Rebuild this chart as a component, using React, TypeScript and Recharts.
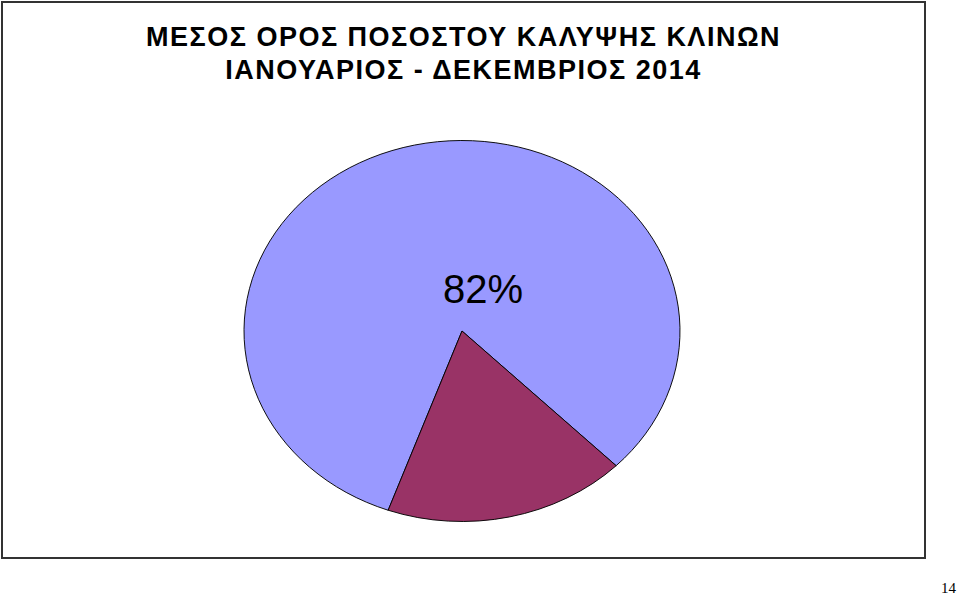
import { PieChart, Pie, Cell } from "recharts";

const TITLE_LINES = [
  "ΜΕΣΟΣ ΟΡΟΣ ΠΟΣΟΣΤΟΥ ΚΑΛΥΨΗΣ ΚΛΙΝΩΝ",
  "ΙΑΝΟΥΑΡΙΟΣ - ΔΕΚΕΜΒΡΙΟΣ 2014",
];
const SLICE_NAMES = ["Κατειλημμένες", "Κενές"];
const SLICE_VALUES = [82, 18];
const SLICE_COLORS = ["#9999FF", "#993366"];
const PAGE_NUMBER = "14";

const data = SLICE_NAMES.map((name, i) => ({ name, value: SLICE_VALUES[i] }));

// the original pie is an ellipse, so the square chart gets squashed vertically
const RX = 218;
const RY = 190.5;
const SQUASH = RY / RX;
const SIZE = 440;

function renderLabel(props: any) {
  const { cx, cy, index, percent } = props;
  if (index !== 0) return null;
  const x = cx + 21;
  const y = cy - 42 / SQUASH;
  return (
    <text
      transform={`translate(${x},${y}) scale(1,${1 / SQUASH})`}
      textAnchor="middle"
      dominantBaseline="central"
      fill="#000"
      fontSize={40}
      fontFamily="'Liberation Sans', Arial, sans-serif"
    >
      {`${Math.round(percent * 100)}%`}
    </text>
  );
}

export default function App() {
  return (
    <div
      style={{
        position: "absolute",
        left: 0,
        top: 0,
        width: 960,
        height: 598,
        background: "#fff",
        fontFamily: "'Liberation Sans', Arial, sans-serif",
      }}
    >
      <div
        style={{
          position: "absolute",
          left: 1,
          top: 1,
          width: 921,
          height: 554,
          border: "2px solid #333",
        }}
      />
      <div
        style={{
          position: "absolute",
          left: 1,
          top: 21,
          width: 925,
          textAlign: "center",
          fontWeight: "bold",
          fontSize: 27,
          letterSpacing: 1.5,
          lineHeight: "33px",
          color: "#000",
        }}
      >
        {TITLE_LINES.map((t) => (
          <div key={t}>{t}</div>
        ))}
      </div>
      <div
        style={{
          position: "absolute",
          left: 462 - SIZE / 2,
          top: 330.5 - SIZE / 2,
          width: SIZE,
          height: SIZE,
          transform: `scale(1, ${SQUASH})`,
          transformOrigin: "50% 50%",
        }}
      >
        <PieChart width={SIZE} height={SIZE} margin={{ top: 0, right: 0, bottom: 0, left: 0 }}>
          <Pie
            data={data}
            dataKey="value"
            nameKey="name"
            cx="50%"
            cy="50%"
            outerRadius={RX}
            startAngle={-45}
            endAngle={315}
            stroke="#000"
            strokeWidth={1}
            label={renderLabel}
            labelLine={false}
            isAnimationActive={false}
          >
            {data.map((d, i) => (
              <Cell key={d.name} fill={SLICE_COLORS[i]} />
            ))}
          </Pie>
        </PieChart>
      </div>
      <div
        style={{
          position: "absolute",
          right: 4,
          top: 580,
          fontFamily: "'Liberation Serif', 'Times New Roman', serif",
          fontSize: 15,
          color: "#000",
        }}
      >
        {PAGE_NUMBER}
      </div>
    </div>
  );
}
